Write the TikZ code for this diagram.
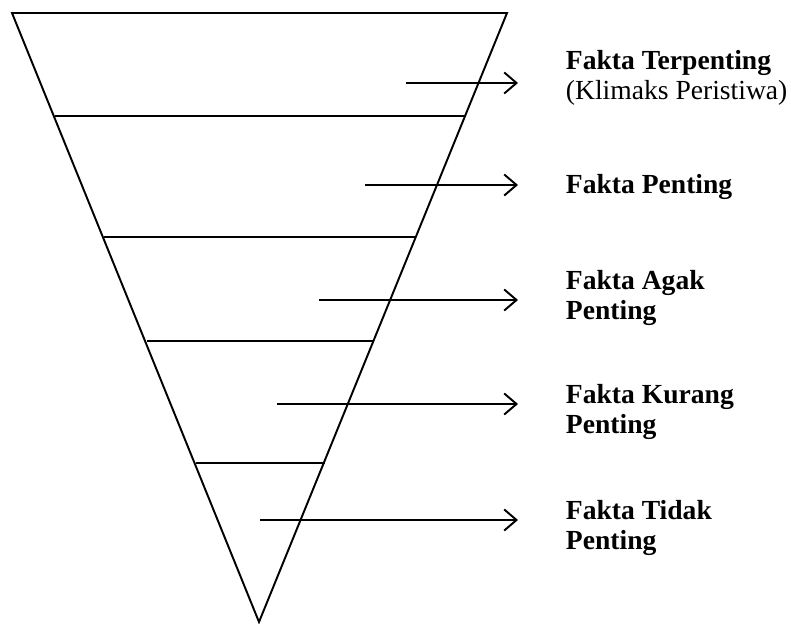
\documentclass[tikz,border=0pt]{standalone}
\usepackage{fontspec}
\setmainfont{Liberation Serif}
\usetikzlibrary{arrows.meta}

\begin{document}
\begin{tikzpicture}[x=0.02cm, y=-0.02cm, line width=1.1pt,
    every node/.style={font=\fontsize{15.7}{17}\selectfont, align=left, anchor=west, inner sep=0pt},
    >={Straight Barb[length=7pt, width=12pt, line width=1.1pt]}]
  \useasboundingbox (0,0) rectangle (791,624);

  % inverted pyramid
  \coordinate (tl) at (12,13);
  \coordinate (tr) at (507,13);
  \coordinate (apex) at (259,622);
  \draw (tl) -- (tr) -- (apex) -- cycle;

  \draw (55,116) -- (466,116);
  \draw (104,237) -- (416,237);
  \draw (147,341) -- (374,341);
  \draw (196,463) -- (325,463);

  % labels
  \node (l1) at (565,78) {\textbf{Fakta Terpenting}\\(Klimaks Peristiwa)};
  \node (l2) at (565,187) {\textbf{Fakta Penting}};
  \node (l3) at (565,298) {\textbf{Fakta Agak}\\\textbf{Penting}};
  \node (l4) at (565,412) {\textbf{Fakta Kurang}\\\textbf{Penting}};
  \node (l5) at (565,528) {\textbf{Fakta Tidak}\\\textbf{Penting}};

  % arrows
  \coordinate (s1) at (406,83);  \coordinate (e1) at (518,83);
  \coordinate (s2) at (365,185); \coordinate (e2) at (518,185);
  \coordinate (s3) at (319,300); \coordinate (e3) at (518,300);
  \coordinate (s4) at (277,404); \coordinate (e4) at (518,404);
  \coordinate (s5) at (260,520); \coordinate (e5) at (518,520);
  \draw[->] (s1) -- (e1);
  \draw[->] (s2) -- (e2);
  \draw[->] (s3) -- (e3);
  \draw[->] (s4) -- (e4);
  \draw[->] (s5) -- (e5);
\end{tikzpicture}
\end{document}
